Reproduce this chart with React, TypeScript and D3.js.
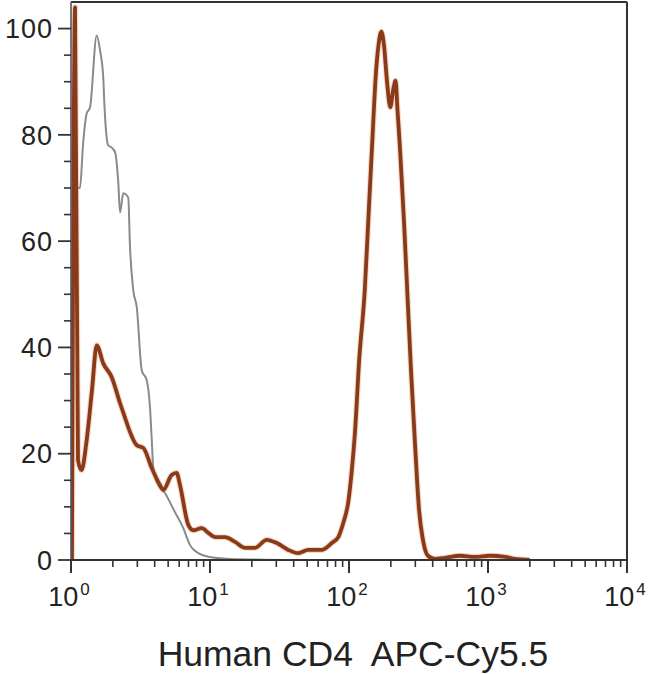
import React from "react";
import * as d3 from "d3";

// Fluorescence intensity (x) and % of max (y)
const isotypeX = [1.016, 1.069, 1.096, 1.161, 1.219, 1.297, 1.371, 1.531, 1.618, 1.706, 1.738, 1.778, 1.854, 1.963, 2.075, 2.188, 2.254, 2.377, 2.582, 2.655, 2.805, 2.972, 3.228, 3.508, 3.698, 3.811, 3.908, 4.14, 4.742, 5.598, 6.427, 7.178, 8.241, 9.727, 13.8, 40];
const isotypeY = [0, 104.3, 70, 70, 78, 84, 85.2, 98.7, 95.9, 90.8, 85.9, 81.4, 78, 77.6, 76.7, 71.1, 65.4, 69, 68.2, 59.2, 50.8, 47.6, 35.7, 33.8, 28.8, 22.6, 17.3, 14.7, 12.6, 9.0, 6.0, 2.8, 1.3, 0.6, 0.2, 0];

const cd4X = [1.016, 1.069, 1.123, 1.19, 1.297, 1.416, 1.531, 1.706, 1.963, 2.254, 2.518, 2.655, 2.972, 3.311, 3.811, 4.365, 4.613, 5.297, 5.754, 6.081, 6.982, 7.586, 8.71, 9.727, 10.86, 12.82, 15.14, 17.86, 21.09, 25.59, 30.2, 36.56, 43.15, 50.93, 63.68, 75.16, 83.75, 91.0, 98.9, 104.0, 110.4, 118.3, 130.0, 138.0, 146.6, 156.0, 162.9, 171.0, 178.6, 187.5, 198.2, 207.5, 216.3, 223.4, 232.8, 248.9, 263.6, 279.3, 298.5, 319.2, 340.4, 369.8, 415.9, 490.9, 629.5, 805.4, 1033, 1324, 1563, 1995];
const cd4Y = [0, 104, 18.8, 16.9, 22.6, 32.0, 40.4, 37.0, 34.4, 29.5, 25.8, 24.1, 21.6, 21.1, 17.3, 14.1, 13.2, 16.0, 16.4, 14.1, 6.6, 5.6, 6.0, 5.1, 4.3, 4.3, 3.4, 2.3, 2.3, 3.8, 3.2, 1.9, 1.3, 1.9, 1.9, 3.2, 4.3, 7.0, 11.0, 16.0, 24.0, 37.5, 51.0, 64.5, 78.0, 91.4, 96.8, 99.4, 96.8, 90.2, 85.2, 88.3, 90.2, 84.6, 77.4, 63.5, 49.6, 35.7, 21.8, 9.4, 3.8, 0.8, 0.2, 0.4, 0.8, 0.6, 0.8, 0.6, 0.2, 0];

const yTickValues = [0, 20, 40, 60, 80, 100];
const xDecades = [0, 1, 2, 3, 4];
const axisTitle = "Human CD4  APC-Cy5.5";

const W = 650;
const H = 674;
const left = 71;
const right = 627;
const top = 2;
const bottom = 560;

export default function App() {
  const x = d3.scaleLog().domain([1, 10000]).range([left, right]);
  const y = d3.scaleLinear().domain([0, 105]).range([bottom, top]);

  const line = d3
    .line<[number, number]>()
    .x((d) => x(d[0]))
    .y((d) => y(d[1]))
    .curve(d3.curveMonotoneX);

  const isoPts = isotypeX.map((v, i) => [v, isotypeY[i]] as [number, number]);
  const cd4Pts = cd4X.map((v, i) => [v, cd4Y[i]] as [number, number]);

  const minorY = d3.range(0, 105, 5).filter((v) => v % 20 !== 0);
  const minorX: number[] = [];
  for (let e = 0; e < 4; e++) {
    for (let m = 2; m <= 9; m++) minorX.push(m * Math.pow(10, e));
  }

  const textColor = "#222";
  const font = "'Liberation Sans', Arial, Helvetica, sans-serif";

  return (
    <svg
      width={W}
      height={H}
      style={{ position: "absolute", left: 0, top: 0, background: "#fff" }}
      fontFamily={font}
    >
      <defs>
        <clipPath id="plotclip">
          <rect x={left} y={top} width={right - left} height={bottom - top} />
        </clipPath>
      </defs>
      <rect x={0} y={0} width={W} height={H} fill="#fff" />

      {/* curves */}
      <g clipPath="url(#plotclip)">
        <path d={line(isoPts) || ""} fill="none" stroke="#8a8a8a" strokeWidth={2} strokeLinejoin="round" />
        <path d={line(cd4Pts) || ""} fill="none" stroke="#d08050" strokeOpacity={0.3} strokeWidth={6} strokeLinejoin="round" />
        <path d={line(cd4Pts) || ""} fill="none" stroke="#8a3a18" strokeWidth={3.8} strokeLinejoin="round" />
      </g>

      {/* frame */}
      <line x1={left} x2={right} y1={top} y2={top} stroke="#333" strokeWidth={2} />
      <line x1={right} x2={right} y1={top} y2={bottom} stroke="#333" strokeWidth={2} />
      <line x1={left} x2={left} y1={top} y2={bottom} stroke="#556" strokeWidth={1.6} />
      <line x1={left} x2={right} y1={bottom} y2={bottom} stroke="#333" strokeWidth={2} />

      {/* y ticks */}
      {yTickValues.map((v) => (
        <g key={"yt" + v}>
          <line x1={left - 13} x2={left} y1={y(v)} y2={y(v)} stroke="#333" strokeWidth={1.8} />
          <text
            x={left - 18}
            y={y(v)}
            dy="0.36em"
            textAnchor="end"
            fontSize={27}
            letterSpacing={1}
            fill={textColor}
          >
            {v}
          </text>
        </g>
      ))}
      {minorY.map((v) => (
        <line key={"ym" + v} x1={left - 7} x2={left} y1={y(v)} y2={y(v)} stroke="#333" strokeWidth={1.6} />
      ))}

      {/* x ticks */}
      {xDecades.map((e) => {
        const px = x(Math.pow(10, e));
        return (
          <g key={"xt" + e}>
            <line x1={px} x2={px} y1={bottom} y2={bottom + 13} stroke="#333" strokeWidth={2} />
            <text x={px - 2} y={bottom + 46} textAnchor="middle" fontSize={27} fill={textColor}>
              10
              <tspan dx={2} dy={-11} fontSize={17}>
                {e}
              </tspan>
            </text>
          </g>
        );
      })}
      {minorX.map((v) => (
        <line key={"xm" + v} x1={x(v)} x2={x(v)} y1={bottom} y2={bottom + 7} stroke="#333" strokeWidth={1.6} />
      ))}

      {/* axis title */}
      <text x={353} y={666} textAnchor="middle" fontSize={35.5} fill={textColor} style={{ whiteSpace: "pre" }}>
        {axisTitle}
      </text>
    </svg>
  );
}
